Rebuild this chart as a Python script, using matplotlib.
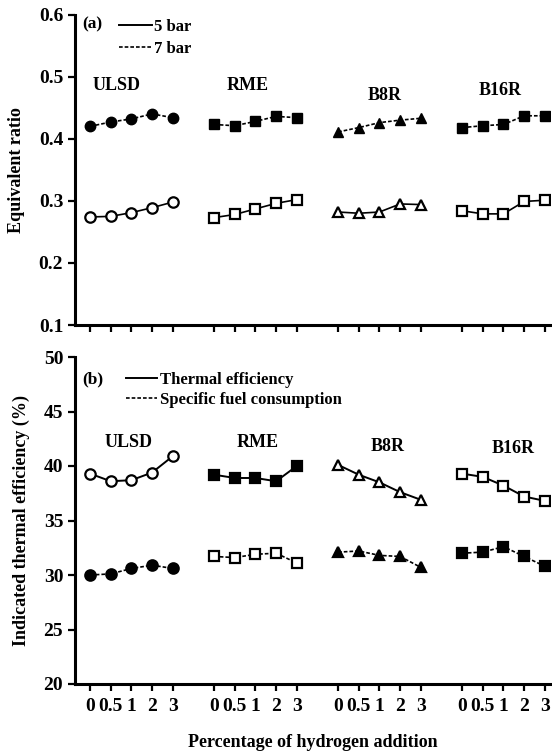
import numpy as np
import matplotlib
matplotlib.use('Agg')
import matplotlib.pyplot as plt
from matplotlib.lines import Line2D

plt.rcParams['font.family'] = ['Liberation Serif', 'DejaVu Serif']

fuels = ['ULSD', 'RME', 'B8R', 'B16R']
h2_labels = ['0', '0.5', '1', '2', '3']

# (a) equivalent ratio
er_7bar = {
    'ULSD': [0.420, 0.427, 0.432, 0.440, 0.434],
    'RME':  [0.423, 0.421, 0.428, 0.436, 0.434],
    'B8R':  [0.411, 0.418, 0.426, 0.430, 0.433],
    'B16R': [0.418, 0.421, 0.423, 0.437, 0.437],
}
er_5bar = {
    'ULSD': [0.274, 0.275, 0.281, 0.289, 0.298],
    'RME':  [0.273, 0.278, 0.287, 0.296, 0.302],
    'B8R':  [0.282, 0.280, 0.282, 0.295, 0.294],
    'B16R': [0.284, 0.279, 0.279, 0.299, 0.301],
}

# (b) indicated thermal efficiency
te_solid = {
    'ULSD': [39.3, 38.6, 38.7, 39.4, 40.9],
    'RME':  [39.2, 38.9, 38.9, 38.6, 40.0],
    'B8R':  [40.1, 39.2, 38.5, 37.6, 36.9],
    'B16R': [39.3, 39.0, 38.2, 37.2, 36.8],
}
te_dashed = {
    'ULSD': [30.0, 30.1, 30.6, 30.9, 30.6],
    'RME':  [31.7, 31.6, 31.9, 32.0, 31.1],
    'B8R':  [32.1, 32.2, 31.8, 31.7, 30.7],
    'B16R': [32.0, 32.1, 32.6, 31.7, 30.8],
}

top_markers = {'ULSD': 'o', 'RME': 's', 'B8R': '^', 'B16R': 's'}
# bottom: which solid series use filled markers
bot_solid_filled = {'ULSD': False, 'RME': True, 'B8R': False, 'B16R': False}

dash = (0, (2.2, 1.2))
xpos = [np.arange(5) + 6 * g for g in range(4)]

W, H = 552, 754
fig = plt.figure(figsize=(W / 100, H / 100), dpi=100)

def px_axes(left, top, right, bottom):
    return fig.add_axes([left / W, 1 - bottom / H, (right - left) / W, (bottom - top) / H])

ax1 = px_axes(75, 14.6, 550, 325)
ax2 = px_axes(75, 357, 550, 684)

def style(ax):
    for s in ['top', 'right']:
        ax.spines[s].set_visible(False)
    for s in ['left', 'bottom']:
        ax.spines[s].set_linewidth(2.2)
    ax.tick_params(direction='out', width=1.6, length=5, labelsize=14)
    ax.set_xlim(-0.73, 22.25)
    ax.set_xticks(np.concatenate(xpos))

ms = 7.5
for g, f in enumerate(fuels):
    m = top_markers[f]
    ax1.plot(xpos[g], er_7bar[f], linestyle=dash, color='black', lw=1.2,
             marker=m, ms=ms, mfc='black', mec='black')
    ax1.plot(xpos[g], er_5bar[f], linestyle='-', color='black', lw=1.2,
             marker=m, ms=ms, mfc='white', mec='black', mew=1.6)

    filled = bot_solid_filled[f]
    ax2.plot(xpos[g], te_solid[f], linestyle='-', color='black', lw=1.4,
             marker=m, ms=ms, mfc='black' if filled else 'white', mec='black', mew=1.6)
    ax2.plot(xpos[g], te_dashed[f], linestyle=dash, color='black', lw=1.2,
             marker=m, ms=ms, mfc='white' if filled else 'black', mec='black', mew=1.6)

style(ax1)
style(ax2)
ax1.set_ylim(0.1, 0.6)
ax1.set_yticks([0.1, 0.2, 0.3, 0.4, 0.5, 0.6])
ax1.set_yticklabels(['0.1', '0.2', '0.3', '0.4', '0.5', '0.6'], fontweight='bold')
ax1.set_xticklabels([])
ax2.set_ylim(20, 50)
ax2.set_yticks([20, 25, 30, 35, 40, 45, 50])
ax2.set_yticklabels(['20', '25', '30', '35', '40', '45', '50'], fontweight='bold')
ax2.set_xticklabels(h2_labels * 4, fontweight='bold')
ax2.tick_params(axis='x', pad=5)

ax1.set_ylabel('Equivalent ratio', fontsize=13, fontweight='bold', labelpad=10)
ax2.set_ylabel('Indicated thermal efficiency (%)', fontsize=13, fontweight='bold', labelpad=10)
ax2.set_xlabel('Percentage of hydrogen addition', fontsize=13, fontweight='bold', labelpad=14)

top_lbl_x = [1.26, 7.64, 14.27, 19.83]
top_lbl_y = [0.486, 0.486, 0.470, 0.477]
bot_lbl_x = [1.84, 8.1, 14.4, 20.45]
bot_lbl_y = [42.2, 42.2, 41.8, 41.6]
for g, f in enumerate(fuels):
    ax1.text(top_lbl_x[g], top_lbl_y[g], f, ha='center', va='center', fontsize=13, fontweight='bold')
    ax2.text(bot_lbl_x[g], bot_lbl_y[g], f, ha='center', va='center', fontsize=13, fontweight='bold')

ax1.text(0.015, 0.97, '(a)', transform=ax1.transAxes, fontsize=12.5, fontweight='bold', va='center')
ax2.text(0.015, 0.93, '(b)', transform=ax2.transAxes, fontsize=12.5, fontweight='bold', va='center')

h1 = [Line2D([], [], color='black', lw=1.4, ls='-'), Line2D([], [], color='black', lw=1.2, ls=dash)]
ax1.legend(h1, ['5 bar', '7 bar'], loc='upper left', bbox_to_anchor=(0.06, 1.035),
           frameon=False, handlelength=2.0, handletextpad=0.15, labelspacing=0.35,
           prop={'size': 12, 'weight': 'bold'})
ax2.legend(h1, ['Thermal efficiency', 'Specific fuel consumption'], loc='upper left',
           bbox_to_anchor=(0.075, 1.0), frameon=False, handlelength=1.9,
           handletextpad=0.15, labelspacing=0.25, prop={'size': 12, 'weight': 'bold'})

fig.savefig('out.png', dpi=100)
